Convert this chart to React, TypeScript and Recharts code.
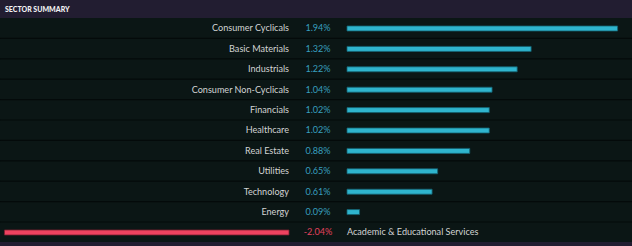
import { BarChart, Bar, XAxis, YAxis } from "recharts";

// sector names and daily change (%)
const SECTORS = [
  "Consumer Cyclicals",
  "Basic Materials",
  "Industrials",
  "Consumer Non-Cyclicals",
  "Financials",
  "Healthcare",
  "Real Estate",
  "Utilities",
  "Technology",
  "Energy",
  "Academic & Educational Services",
];
const CHANGES = [1.94, 1.32, 1.22, 1.04, 1.02, 1.02, 0.88, 0.65, 0.61, 0.09, -2.04];

const BG = "#0b1615";
const HEAD = "#221d31";
const SEP = "#040a0a";
const POS = "#2fb5ce";
const NEG = "#ef4360";
const FONT = "Lato, 'Open Sans', sans-serif";

const W = 632;
const ROW_H = 20.4;
const CHART_H = ROW_H * SECTORS.length;
const AXIS_W = 1;

const data = SECTORS.map((name, i) => ({
  name,
  value: CHANGES[i],
  pos: CHANGES[i] > 0 ? CHANGES[i] : null,
  neg: CHANGES[i] < 0 ? CHANGES[i] : null,
}));

// zero lines and px-per-% (layout only)
const PX = 139.5;
const POS_ZERO = 347;
const NEG_ZERO = 289;
const posDomain = [-(POS_ZERO - AXIS_W) / PX, (W - POS_ZERO) / PX];
const negDomain = [-(NEG_ZERO - AXIS_W) / PX, (W - NEG_ZERO) / PX];

const fmt = (v: number) => `${v.toFixed(2)}%`;

function renderTick(props: any) {
  const { y, payload, index } = props;
  const row = data[index] ?? data.find((d) => d.name === payload.value);
  const neg = row && row.value < 0;
  return (
    <g key={`t-${index}`}>
      {index > 0 && (
        <line x1={0} x2={W} y1={y - ROW_H / 2} y2={y - ROW_H / 2} stroke={SEP} strokeWidth={1.2} />
      )}
      <text
        x={neg ? POS_ZERO : NEG_ZERO}
        y={y}
        dy="0.35em"
        textAnchor={neg ? "start" : "end"}
        fill="#d2d4d4"
        fontSize={9.1}
        fontFamily={FONT}
      >
        {payload.value}
      </text>
      {row && (
        <text
          x={318}
          y={y}
          dy="0.35em"
          textAnchor="middle"
          fill={neg ? "#e2425d" : "#389fbf"}
          fontSize={9.1}
          fontFamily={FONT}
        >
          {fmt(row.value)}
        </text>
      )}
    </g>
  );
}

export default function App() {
  return (
    <div style={{ position: "relative", width: W, height: 246, background: BG, overflow: "hidden" }}>
      <style>{`body{margin:0}`}</style>
      <div
        style={{
          height: 18,
          background: HEAD,
          color: "#f2f2f4",
          fontFamily: FONT,
          fontWeight: 900,
          fontSize: 7,
          lineHeight: "18px",
          paddingLeft: 5,
          letterSpacing: 0,
        }}
      >
        SECTOR SUMMARY
      </div>
      <BarChart
        width={W}
        height={CHART_H}
        data={data}
        layout="vertical"
        margin={{ top: 0, right: 0, bottom: 0, left: 0 }}
        barCategoryGap={0}
        barGap={-5}
      >
        <XAxis xAxisId="pos" type="number" domain={posDomain} allowDataOverflow hide />
        <XAxis xAxisId="neg" type="number" domain={negDomain} allowDataOverflow hide />
        <YAxis
          type="category"
          dataKey="name"
          width={AXIS_W}
          axisLine={false}
          tickLine={false}
          tick={renderTick}
          interval={0}
        />
        <Bar xAxisId="pos" dataKey="pos" barSize={5} fill={POS} stroke="#14606e" strokeWidth={0.8} isAnimationActive={false} />
        <Bar xAxisId="neg" dataKey="neg" barSize={5} fill={NEG} stroke="#7a1f30" strokeWidth={0.8} isAnimationActive={false} />
      </BarChart>
      <div style={{ position: "absolute", left: 0, top: 242, width: W, height: 4, background: HEAD }} />
    </div>
  );
}
